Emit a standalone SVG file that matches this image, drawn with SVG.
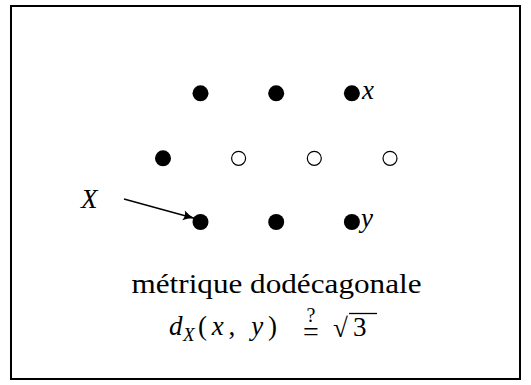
<svg xmlns="http://www.w3.org/2000/svg" width="531" height="385" viewBox="0 0 531 385">
<defs>
<marker id="ah" markerWidth="14" markerHeight="12" refX="13" refY="6" orient="auto" markerUnits="userSpaceOnUse">
<path d="M1,1 Q7,5 13,6 Q7,7 1,11 Q4,6 1,1 Z" fill="#000"/>
</marker>
</defs>
<rect x="11" y="6" width="509" height="373" fill="#fff" stroke="#000" stroke-width="2"/>
<g id="row1" fill="#000">
<circle cx="200.5" cy="93.3" r="8"/>
<circle cx="276.2" cy="93.3" r="8"/>
<circle cx="351.9" cy="93.3" r="8"/>
</g>
<g id="row2">
<circle cx="163" cy="158.3" r="8" fill="#000"/>
<circle cx="238.6" cy="158.3" r="7" fill="#fff" stroke="#000" stroke-width="1.2"/>
<circle cx="314.3" cy="158.3" r="7" fill="#fff" stroke="#000" stroke-width="1.2"/>
<circle cx="390" cy="158.3" r="7" fill="#fff" stroke="#000" stroke-width="1.2"/>
</g>
<g id="row3" fill="#000">
<circle cx="200.5" cy="222" r="8"/>
<circle cx="276.2" cy="222" r="8"/>
<circle cx="351.9" cy="222" r="8"/>
</g>
<g font-family="'Liberation Serif', 'Times New Roman', Tinos, 'Noto Serif', 'DejaVu Serif', FreeSerif, serif" font-size="27" fill="#000">
<g id="label-x"><text font-style="italic" x="362" y="98.5">x</text></g>
<g id="label-y"><text font-style="italic" x="361" y="227">y</text></g>
<g id="label-X"><text font-style="italic" x="81" y="208">X</text></g>
<g id="caption">
<text x="131.5" y="293" textLength="290" lengthAdjust="spacingAndGlyphs">métrique dodécagonale</text>
<text font-style="italic" x="169" y="335">d</text>
<text font-style="italic" x="183" y="341" font-size="19">X</text>
<text x="198" y="335" textLength="79" lengthAdjust="spacing">(<tspan font-style="italic">x</tspan>, <tspan font-style="italic">y</tspan>)</text>
<text x="303" y="341" font-size="28">=</text>
<text x="306.5" y="322" font-size="20">?</text>
<text x="333" y="337">√</text>
<text x="353" y="336">3</text>
</g>
</g>
<g id="connectors">
<line x1="124" y1="199" x2="195" y2="218.5" stroke="#000" stroke-width="1.3" marker-end="url(#ah)"/>
<line x1="349" y1="313.5" x2="377" y2="313.5" stroke="#000" stroke-width="1.3"/>
</g>
</svg>
